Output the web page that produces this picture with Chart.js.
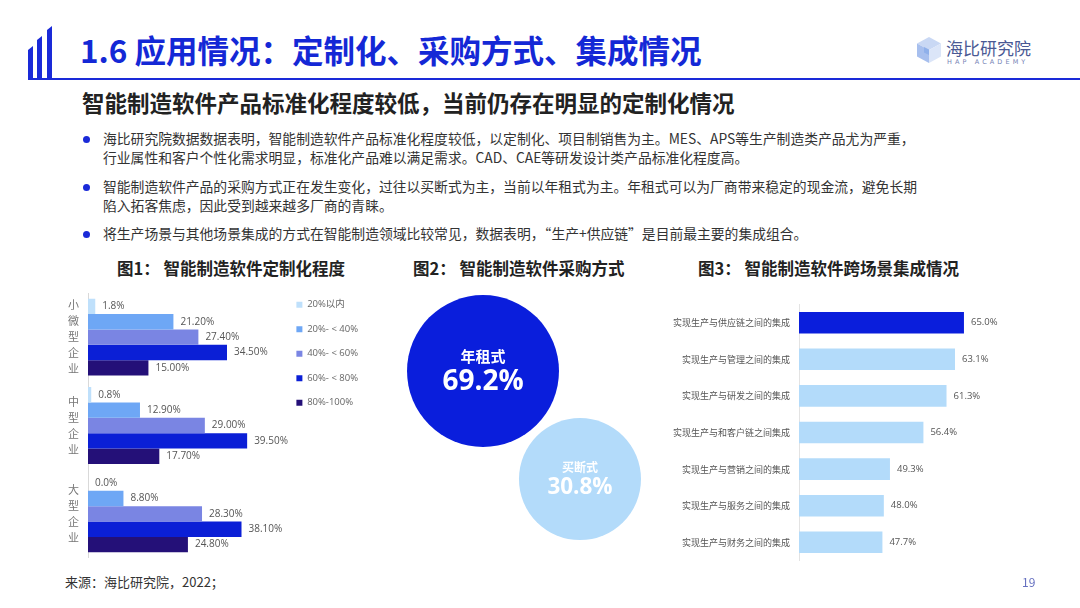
<!DOCTYPE html>
<html>
<head>
<meta charset="utf-8">
<script src="https://cdn.jsdelivr.net/npm/chart.js@4.4.1/dist/chart.umd.min.js"></script>
<style>
  body { margin: 0; width: 1080px; height: 608px; overflow: hidden; background: #fff;
         font-family: "Noto Sans CJK SC", "Noto Sans", sans-serif; position: relative; }
  .abs { position: absolute; }
  .deco { position: absolute; background: #1a2ad8; width: 5px; }
  .title { left: 80px; top: 26px; font-size: 31.5px; font-weight: bold; color: #1428d6; white-space: nowrap; }
  .subtitle { left: 82px; top: 86px; font-size: 22.5px; font-weight: bold; color: #222; white-space: nowrap; }
  .bullet { left: 103px; font-size: 13.8px; color: #333; line-height: 19px; white-space: nowrap; }
  .dot { position: absolute; left: 83px; width: 7px; height: 7px; border-radius: 50%; background: #1a2ad8; }
  .ctitle { top: 256px; font-size: 16.5px; font-weight: bold; color: #222; white-space: nowrap; }
  canvas { position: absolute; }
</style>
</head>
<body>
<!-- header -->
<div class="deco" style="left:28px; top:46px; height:33px; clip-path: polygon(0 4px, 100% 0, 100% 100%, 0 100%);"></div>
<div class="deco" style="left:37px; top:36px; height:43px; clip-path: polygon(0 4px, 100% 0, 100% 100%, 0 100%);"></div>
<div class="deco" style="left:47px; top:26px; height:53px; clip-path: polygon(0 4px, 100% 0, 100% 100%, 0 100%);"></div>
<div class="abs" style="left:28px; top:78px; width:1052px; height:2px; background:#1a2ad8;"></div>
<div class="abs title">1.6 应用情况：定制化、采购方式、集成情况</div>

<!-- logo -->
<svg class="abs" style="left:916px; top:36px;" width="26" height="28" viewBox="0 0 26 28">
  <polygon points="13,1 25,7.5 13,14 1,7.5" fill="#c9d8f4"/>
  <polygon points="1,7.5 13,14 13,27 1,20.5" fill="#a7bfee"/>
  <polygon points="25,7.5 13,14 13,27 25,20.5" fill="#dbe5f8"/>
  <polygon points="8,11 13,13.6 13,19 8,16.4" fill="#8fb0ea"/>
</svg>
<div class="abs" style="left:946px; top:35px; font-size:17px; color:#4a5994;">海比研究院</div>
<div class="abs" style="left:947px; top:58px; font-size:6.5px; color:#7684b5; letter-spacing:3.1px; font-family:'DejaVu Sans';">HAP ACADEMY</div>

<div class="abs subtitle">智能制造软件产品标准化程度较低，当前仍存在明显的定制化情况</div>

<div class="dot" style="top:136px;"></div>
<div class="abs bullet" style="top:129px;">海比研究院数据数据表明，智能制造软件产品标准化程度较低，以定制化、项目制销售为主。MES、APS等生产制造类产品尤为严重，<br>行业属性和客户个性化需求明显，标准化产品难以满足需求。CAD、CAE等研发设计类产品标准化程度高。</div>
<div class="dot" style="top:184px;"></div>
<div class="abs bullet" style="top:177px;">智能制造软件产品的采购方式正在发生变化，过往以买断式为主，当前以年租式为主。年租式可以为厂商带来稳定的现金流，避免长期<br>陷入拓客焦虑，因此受到越来越多厂商的青睐。</div>
<div class="dot" style="top:231px;"></div>
<div class="abs bullet" style="top:224px;">将生产场景与其他场景集成的方式在智能制造领域比较常见，数据表明，“生产+供应链”是目前最主要的集成组合。</div>

<div class="abs ctitle" style="left:117px;">图1：&nbsp;智能制造软件定制化程度</div>
<div class="abs ctitle" style="left:413px;">图2：&nbsp;智能制造软件采购方式</div>
<div class="abs ctitle" style="left:698px;">图3：&nbsp;智能制造软件跨场景集成情况</div>

<canvas id="c1" style="left:60px; top:290px;" width="308" height="268"></canvas>
<canvas id="c2" style="left:390px; top:280px;" width="260" height="300"></canvas>
<canvas id="c3" style="left:670px; top:290px;" width="400" height="285"></canvas>

<div class="abs" style="left:65px; top:572px; font-size:13px; color:#333;">来源：海比研究院，2022；</div>
<div class="abs" style="left:1022px; top:573px; font-size:12px; color:#6670c0;">19</div>

<script>
// 图1 data: enterprise size x customization level
var sizeCategories = ['小微型企业', '中型企业', '大型企业'];
var levelNames = ['20%以内', '20%- < 40%', '40%- < 60%', '60%- < 80%', '80%-100%'];
var level0 = [1.8, 0.8, 0.0];
var level1 = [21.2, 12.9, 8.8];
var level2 = [27.4, 29.0, 28.3];
var level3 = [34.5, 39.5, 38.1];
var level4 = [15.0, 17.7, 24.8];
var levelDecimals = [1, 2, 2, 2, 2];

// 图2 data
var buyModes = ['年租式', '买断式'];
var buyShares = [69.2, 30.8];

// 图3 data
var sceneNames = ['实现生产与供应链之间的集成', '实现生产与管理之间的集成', '实现生产与研发之间的集成',
    '实现生产与和客户链之间集成', '实现生产与营销之间的集成', '实现生产与服务之间的集成', '实现生产与财务之间的集成'];
var sceneShares = [65.0, 63.1, 61.3, 56.4, 49.3, 48.0, 47.7];

Chart.defaults.font.family = '"Open Sans", "Noto Sans CJK SC", sans-serif';
Chart.defaults.animation = false;
Chart.defaults.events = [];

// draws value text at the end of every horizontal bar
var barValueLabels = {
    id: 'barValueLabels',
    afterDatasetsDraw: function (chart, args, opts) {
        var ctx = chart.ctx;
        ctx.save();
        ctx.font = opts.size + 'px "Open Sans", sans-serif';
        ctx.fillStyle = '#555';
        ctx.textBaseline = 'middle';
        ctx.textAlign = 'left';
        chart.data.datasets.forEach(function (ds, i) {
            chart.getDatasetMeta(i).data.forEach(function (bar, j) {
                var dec = ds.decimals !== undefined ? ds.decimals : 1;
                ctx.fillText(ds.data[j].toFixed(dec) + '%', bar.x + opts.offset, bar.y);
            });
        });
        ctx.restore();
    }
};

// nudge the legend block up a little, the slide has it higher than chart.js puts it
var legendNudge = {
    id: 'legendNudge',
    afterLayout: function (chart) {
        chart.legend.top -= 8;
        chart.legend.bottom -= 8;
    }
};

var levelColors = ['#bfe0fb', '#6ea7f5', '#7a85e3', '#0b1fd6', '#241078'];
var levelData = [level0, level1, level2, level3, level4];

new Chart(document.getElementById('c1'), {
    type: 'bar',
    data: {
        labels: sizeCategories,
        datasets: levelData.map(function (d, i) {
            return {
                label: levelNames[i],
                data: d,
                decimals: levelDecimals[i],
                backgroundColor: levelColors[i],
                categoryPercentage: 0.87,
                barPercentage: 1.0
            };
        })
    },
    options: {
        indexAxis: 'y',
        responsive: false,
        layout: { padding: { top: 3, bottom: 0, right: 0 } },
        scales: {
            x: { display: false, min: 0, max: 48 },
            y: {
                grid: { display: false, drawTicks: false },
                border: { color: '#d9d9d9' },
                afterFit: function (axis) {
                    axis.width = 28;
                    axis.paddingTop = 0;
                    axis.paddingBottom = 0;
                },
                ticks: {
                    color: '#777',
                    padding: 9,
                    font: { size: 11, lineHeight: 1.45, family: '"Noto Sans CJK SC"' },
                    callback: function (v) { return sizeCategories[v].split(''); }
                }
            }
        },
        plugins: {
            legend: {
                position: 'right',
                align: 'start',
                maxWidth: 100,
                labels: { boxWidth: 6, boxHeight: 6, padding: 15, color: '#666',
                          font: { size: 9.5, family: '"Open Sans", "Noto Sans CJK SC"' } }
            },
            tooltip: { enabled: false },
            barValueLabels: { size: 10, offset: 7 }
        }
    },
    plugins: [barValueLabels, legendNudge]
});

// 图2: two bubbles, radius grows with share
var bubbleText = {
    id: 'bubbleText',
    afterDatasetsDraw: function (chart) {
        var ctx = chart.ctx;
        ctx.save();
        ctx.fillStyle = '#fff';
        ctx.textAlign = 'center';
        ctx.textBaseline = 'middle';
        chart.getDatasetMeta(0).data.forEach(function (pt, i) {
            var k = pt.options.radius / 76;
            ctx.font = 'bold ' + (15 * k) + 'px "Noto Sans CJK SC"';
            ctx.fillText(buyModes[i], pt.x, pt.y - 15 * k);
            ctx.font = 'bold ' + (28 * k) + 'px "Open Sans", "Noto Sans"';
            ctx.fillText(buyShares[i].toFixed(1) + '%', pt.x, pt.y + 11 * k);
        });
        ctx.restore();
    }
};

new Chart(document.getElementById('c2'), {
    type: 'bubble',
    data: {
        datasets: [{
            label: '采购方式',
            data: buyShares.map(function (v, i) { return { x: i, y: v }; }),
            backgroundColor: ['#0a1edc', '#b3dbfa'],
            borderWidth: 0,
            radius: function (c) { return 49 + c.raw.y * 0.39; },
            clip: false
        }]
    },
    options: {
        responsive: false,
        layout: { padding: 0, autoPadding: false },
        scales: {
            x: { display: false, min: -0.959, max: 1.722 },
            y: { display: false, min: -5.1, max: 101.6 }
        },
        plugins: { legend: { display: false }, tooltip: { enabled: false } }
    },
    plugins: [bubbleText]
});

// 图3: cross-scene integration
new Chart(document.getElementById('c3'), {
    type: 'bar',
    data: {
        labels: sceneNames,
        datasets: [{
            label: '集成情况',
            data: sceneShares,
            decimals: 1,
            backgroundColor: sceneShares.map(function (v, i) { return i === 0 ? '#0a1edc' : '#b3dbfa'; }),
            categoryPercentage: 1.0,
            barPercentage: 0.59
        }]
    },
    options: {
        indexAxis: 'y',
        responsive: false,
        layout: { padding: { top: 5, bottom: 7.5 } },
        scales: {
            x: { display: false, min: 30, max: 87.5 },
            y: {
                grid: { display: false, drawTicks: false },
                border: { color: '#e3e3e3' },
                afterFit: function (axis) { axis.width = 129; },
                ticks: { color: '#555', padding: 9, font: { size: 9, family: '"Noto Sans CJK SC"' } }
            }
        },
        plugins: {
            legend: { display: false },
            tooltip: { enabled: false },
            barValueLabels: { size: 9.5, offset: 7 }
        }
    },
    plugins: [barValueLabels]
});
</script>
</body>
</html>
